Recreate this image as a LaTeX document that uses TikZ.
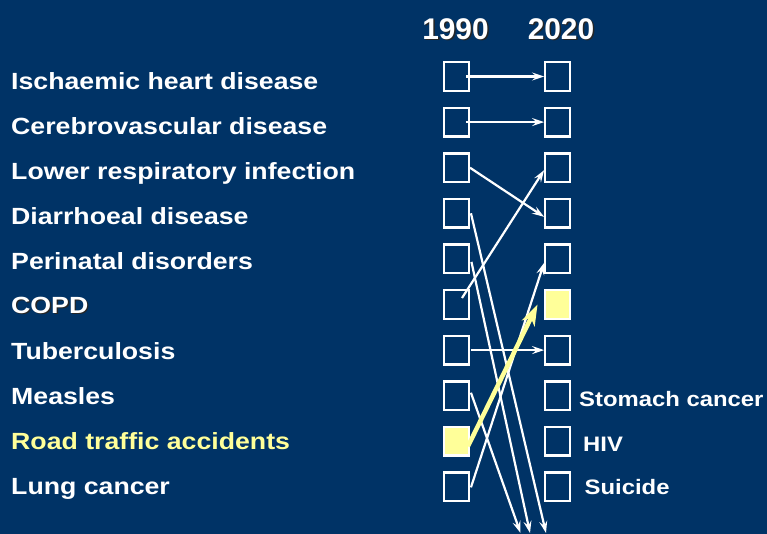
\documentclass[tikz,border=0pt]{standalone}
\usepackage{fontspec}
\setmainfont{Liberation Sans}
\newfontfamily\labfont[FakeStretch=1.14]{Liberation Sans}
\usetikzlibrary{arrows.meta}
\definecolor{navy}{HTML}{003366}
\definecolor{pale}{HTML}{FFFF99}
\tikzset{
  rankbox/.style={draw=white, line width=2.4bp, minimum width=24.5bp,
    minimum height=28.5bp, inner sep=0pt},
  hilite/.style={fill=pale},
  causelabel/.style={anchor=base west, inner sep=0pt, text=white,
    font=\labfont\bfseries\fontsize{23.5}{28}\selectfont},
  newlabel/.style={anchor=base west, inner sep=0pt, text=white,
    font=\labfont\bfseries\fontsize{21}{25}\selectfont},
  yearlabel/.style={anchor=base, inner sep=0pt,
    font=\bfseries\fontsize{30}{34}\selectfont},
  shadowtext/.style={text=black!85},
  conn/.style={draw=white, line width=2.2bp,
    -{Stealth[length=12bp,width=8bp,inset=4.5bp]}},
  riser/.style={draw=pale, line width=4.5bp,
    -{Stealth[length=21bp,width=14bp,inset=6bp]}}
}
\begin{document}
\begin{tikzpicture}[x=1bp,y=-1bp]
  \fill[navy] (0,0) rectangle (767,534);
  \useasboundingbox (0,0) rectangle (767,534);

  % column headings with drop shadow
  \node[yearlabel, shadowtext] (ys1) at (457,40.8) {1990};
  \node[yearlabel, text=white] (y1) at (455.5,39.3) {1990};
  \node[yearlabel, shadowtext] (ys2) at (562.5,40.8) {2020};
  \node[yearlabel, text=white] (y2) at (561,39.3) {2020};

  % ranking boxes, 1990 (left) and 2020 (right)
  \foreach \i in {0,...,9} {
    \node[rankbox] (L\i) at (456.5,{76.5+45.6*\i}) {};
    \node[rankbox] (R\i) at (557.5,{76.5+45.6*\i}) {};
  }
  \node[rankbox, hilite] at (L8) {};
  \node[rankbox, hilite] at (R5) {};

  % causes of death, ranked for 1990
  \node[causelabel] (c0) at (11,89.3) {Ischaemic heart disease};
  \node[causelabel] (c1) at (11,134.3) {Cerebrovascular disease};
  \node[causelabel] (c2) at (11,179.3) {Lower respiratory infection};
  \node[causelabel] (c3) at (11,224.3) {Diarrhoeal disease};
  \node[causelabel] (c4) at (11,269.3) {Perinatal disorders};
  \node[causelabel, shadowtext] (c5s) at (12.3,314.6) {COPD};
  \node[causelabel] (c5) at (11,313.3) {COPD};
  \node[causelabel] (c6) at (11,359.3) {Tuberculosis};
  \node[causelabel] (c7) at (11,404.3) {Measles};
  \node[causelabel, text=pale] (c8) at (11,449.3) {Road traffic accidents};
  \node[causelabel] (c9) at (11,494.3) {Lung cancer};

  % new entries in the 2020 ranking
  \node[newlabel] (n7) at (579,406.7) {Stomach cancer};
  \node[newlabel] (n8) at (583,451.5) {HIV};
  \node[newlabel] (n9) at (584.5,494.5) {Suicide};

  % free ends for causes falling out of the top ten
  \coordinate (out3) at (546,533);
  \coordinate (out4) at (530,533);
  \coordinate (out7) at (520.5,533);

  % rank changes
  \draw[conn] ([xshift=-4bp]L0.east) -- (R0.west);
  \draw[conn] ([xshift=-4bp]L1.east) -- (R1.west);
  \draw[conn] (L2.east) -- ([yshift=-3.5bp]R3.west);
  \draw[conn] ([xshift=1bp]L3.east) -- (out3);
  \draw[conn] ([xshift=1.5bp,yshift=-3bp]L4.east) -- (out4);
  \draw[conn] ([xshift=5.5bp,yshift=6.5bp]L5.center) -- ([yshift=-2.5bp]R2.west);
  \draw[conn] ([xshift=1bp]L6.east) -- (R6.west);
  \draw[conn] ([xshift=1bp,yshift=3bp]L7.east) -- (out7);
  \draw[conn] ([xshift=1bp,yshift=-0.5bp]L9.east) -- ([yshift=-4bp]R4.west);
  \draw[riser] ([xshift=-2bp,yshift=-5bp]L8.east) -- ([xshift=-6.5bp]R5.west);
\end{tikzpicture}
\end{document}
